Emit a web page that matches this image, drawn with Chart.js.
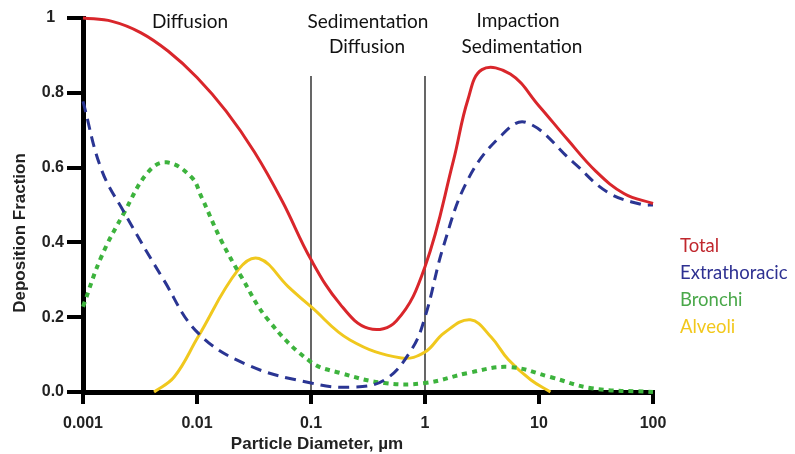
<!DOCTYPE html>
<html>
<head>
<meta charset="utf-8">
<script src="https://cdn.jsdelivr.net/npm/chart.js@4.4.0/dist/chart.umd.min.js"></script>
<style>
  html, body { margin: 0; padding: 0; background: #fff; }
  #wrap { position: relative; width: 795px; height: 454px; }
</style>
</head>
<body>
<div id="wrap"><canvas id="canvas"></canvas></div>
<script>
// tick labels
const xTicks = [0.001, 0.01, 0.1, 1, 10, 100];
const yTicks = [0, 0.2, 0.4, 0.6, 0.8, 1];
const xTitle = 'Particle Diameter, \u00b5m';
const yTitle = 'Deposition Fraction';

// series names + colours
const seriesNames = ['Total', 'Extrathoracic', 'Bronchi', 'Alveoli'];
const lineColors = ['#d9262b', '#2a3593', '#3db33d', '#f0c81e'];
const textColors = ['#c0272d', '#2e3192', '#4aa84a', '#f2c81c'];

// (particle diameter in um, deposition fraction)
const totalX = [0.001, 0.0018, 0.0032, 0.0056, 0.01, 0.018, 0.032, 0.056, 0.1, 0.18, 0.32, 0.56, 1, 1.78, 2.37, 3.16, 5.6, 10, 17.8, 31.6, 56, 100];
const totalY = [1.0, 0.991, 0.961, 0.911, 0.841, 0.751, 0.641, 0.51, 0.354, 0.235, 0.17, 0.19, 0.335, 0.62, 0.78, 0.862, 0.85, 0.765, 0.675, 0.59, 0.53, 0.504];

const extraX = [0.001, 0.00145, 0.0023, 0.0051, 0.0102, 0.028, 0.1, 0.22, 0.44, 0.76, 1, 1.45, 2.38, 4.6, 7.7, 20, 40, 80, 100];
const extraY = [0.777, 0.595, 0.48, 0.30, 0.158, 0.072, 0.024, 0.013, 0.032, 0.113, 0.20, 0.389, 0.568, 0.684, 0.721, 0.614, 0.534, 0.501, 0.50];

const bronchiX = [0.001, 0.00145, 0.0023, 0.0037, 0.0054, 0.0089, 0.011, 0.0162, 0.0245, 0.042, 0.1, 0.18, 0.44, 1, 2.4, 5.4, 12.6, 29, 100];
const bronchiY = [0.228, 0.362, 0.48, 0.587, 0.614, 0.575, 0.52, 0.407, 0.308, 0.193, 0.080, 0.051, 0.024, 0.024, 0.051, 0.067, 0.04, 0.01, 0.0];

const alveoliX = [0.0042, 0.0063, 0.0102, 0.023, 0.035, 0.063, 0.1, 0.22, 0.62, 1, 1.47, 2.5, 3.8, 5.4, 8.5, 12.6];
const alveoliY = [0.0, 0.04, 0.147, 0.327, 0.357, 0.282, 0.228, 0.139, 0.091, 0.107, 0.158, 0.193, 0.147, 0.086, 0.032, 0.0];

// the two region dividers
const dividerX = [0.1, 1];
const dividerTop = 0.845;

function pts(xs, ys) {
    return xs.map((x, i) => ({x: x, y: ys[i]}));
}

const baseLine = {
    pointRadius: 0,
    fill: false,
    tension: 0.4,
    clip: false
};

const datasets = [
    Object.assign({}, baseLine, {label: seriesNames[0], data: pts(totalX, totalY), borderColor: lineColors[0], borderWidth: 3}),
    Object.assign({}, baseLine, {label: seriesNames[1], data: pts(extraX, extraY), borderColor: lineColors[1], borderWidth: 3, borderDash: [11, 7]}),
    Object.assign({}, baseLine, {label: seriesNames[2], data: pts(bronchiX, bronchiY), borderColor: lineColors[2], borderWidth: 4, borderDash: [5, 5]}),
    Object.assign({}, baseLine, {label: seriesNames[3], data: pts(alveoliX, alveoliY), borderColor: lineColors[3], borderWidth: 3})
];
dividerX.forEach(x => {
    datasets.push({label: 'divider', data: [{x: x, y: 0}, {x: x, y: dividerTop}], borderColor: '#000', borderWidth: 1.2, pointRadius: 0, tension: 0});
});

// region names, axis titles and the coloured legend
const textPlugin = {
    id: 'texts',
    afterDraw(chart) {
        const ctx = chart.ctx;
        ctx.save();
        ctx.textBaseline = 'middle';
        ctx.font = '19px Lato';
        ctx.fillStyle = '#111';
        ctx.textAlign = 'center';
        ctx.fillText('Diffusion', 190, 22);
        ctx.fillText('Sedimentation', 368, 22);
        ctx.fillText('Diffusion', 367, 47);
        ctx.fillText('Impaction', 518, 21);
        ctx.fillText('Sedimentation', 522, 47);

        ctx.font = 'bold 17px "Liberation Sans"';
        ctx.fillStyle = '#222';
        ctx.fillText(xTitle, 317, 444);
        ctx.save();
        ctx.translate(20, 233);
        ctx.rotate(-Math.PI / 2);
        ctx.fillText(yTitle, 0, 0);
        ctx.restore();

        ctx.font = '18.5px Lato';
        ctx.textAlign = 'left';
        seriesNames.forEach((n, i) => {
            ctx.fillStyle = textColors[i];
            ctx.fillText(n, 680, 246 + i * 27);
        });
        ctx.restore();
    }
};

const ctx = document.getElementById('canvas').getContext('2d');
const myChart = new Chart(ctx, {
    type: 'line',
    data: {datasets: datasets},
    plugins: [textPlugin],
    options: {
        responsive: true,
        maintainAspectRatio: false,
        animation: false,
        layout: {padding: {top: 18, right: 142, left: 0, bottom: 0}},
        plugins: {legend: {display: false}, tooltip: {enabled: false}},
        scales: {
            x: {
                type: 'logarithmic',
                min: 0.001,
                max: 100,
                afterBuildTicks: s => { s.ticks = xTicks.map(v => ({value: v})); },
                afterFit: s => { s.height = 62; },
                ticks: {
                    autoSkip: false,
                    maxRotation: 0,
                    padding: 10,
                    color: '#222',
                    font: {family: 'Liberation Sans', size: 16, weight: 'bold'},
                    callback: v => String(v)
                },
                grid: {drawOnChartArea: false, tickLength: 12, lineWidth: 4, color: '#000'},
                border: {width: 5, color: '#000'}
            },
            y: {
                min: 0,
                max: 1,
                afterBuildTicks: s => { s.ticks = yTicks.map(v => ({value: v})); },
                afterFit: s => { s.width = 83; },
                ticks: {
                    padding: 3,
                    color: '#222',
                    font: {family: 'Liberation Sans', size: 16, weight: 'bold'},
                    callback: v => (v === 1 ? '1  ' : v.toFixed(1))
                },
                grid: {drawOnChartArea: false, tickLength: 16, lineWidth: 4, color: '#000'},
                border: {width: 5, color: '#000'}
            }
        }
    }
});
</script>
</body>
</html>
